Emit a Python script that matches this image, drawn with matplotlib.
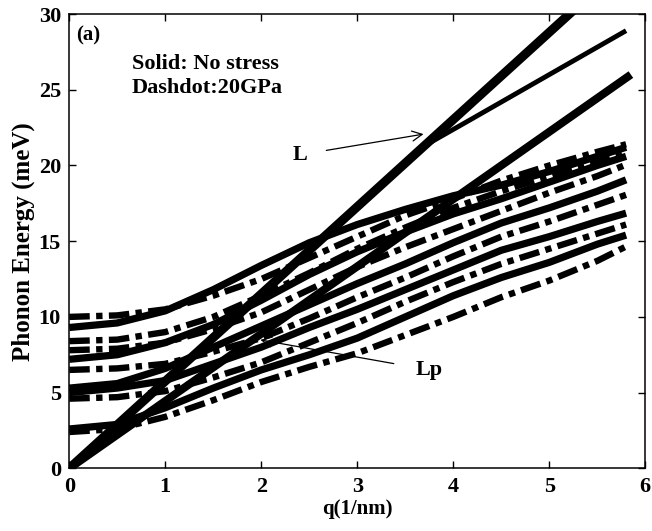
import numpy as np
import matplotlib
matplotlib.use("Agg")
import matplotlib.pyplot as plt

plt.rcParams['font.family'] = ['Liberation Serif', 'DejaVu Serif']
plt.rcParams['font.weight'] = 'bold'
plt.rcParams['axes.labelweight'] = 'bold'

# wave vector grid (1/nm)
q = [0, 0.5, 1, 1.5, 2, 2.5, 3, 3.5, 4, 4.5, 5, 5.5, 5.8]

# no stress branches (solid)
solid = [
    [9.3, 9.6, 10.4, 11.8, 13.4, 14.9, 16.1, 17.1, 18.0, 18.7, 19.6, 20.6, 21.2],
    [7.2, 7.5, 8.3, 9.5, 11.1, 12.8, 14.3, 15.6, 16.8, 17.8, 18.9, 20.0, 20.6],
    [5.3, 5.6, 6.6, 8.0, 9.4, 10.8, 12.2, 13.5, 14.9, 16.2, 17.2, 18.3, 19.05],
    [5.0, 5.3, 5.8, 6.9, 8.0, 9.3, 10.5, 11.8, 13.1, 14.4, 15.3, 16.3, 16.85],
    [2.6, 2.9, 4.0, 5.3, 6.5, 7.5, 8.6, 10.0, 11.4, 12.6, 13.6, 14.8, 15.4],
]

# 20 GPa branches (dashdot)
dashdot = [
    [10.0, 10.1, 10.5, 11.4, 12.5, 13.9, 15.3, 16.7, 17.8, 19.0, 20.0, 20.9, 21.4],
    [8.4, 8.5, 9.0, 10.0, 11.4, 12.9, 14.5, 15.9, 17.2, 18.3, 19.3, 20.3, 20.9],
    [7.8, 7.9, 8.3, 9.2, 10.3, 11.8, 13.3, 14.6, 15.8, 17.0, 18.2, 19.3, 20.05],
    [6.5, 6.6, 6.9, 7.7, 8.6, 9.9, 11.3, 12.6, 14.0, 15.3, 16.3, 17.4, 18.06],
    [4.6, 4.7, 5.1, 6.0, 7.0, 8.3, 9.6, 11.0, 12.3, 13.5, 14.5, 15.5, 16.1],
    [2.4, 2.6, 3.4, 4.5, 5.7, 6.7, 7.6, 8.8, 10.0, 11.3, 12.4, 13.7, 14.65],
]

# longitudinal branches
qL1 = [0, 5.8]
L1 = [0, 33.4]
qL2 = [0, 3.7, 4.2, 5.0, 5.8]
L2 = [0, 21.3, 23.1, 26.0, 28.9]
qL3 = [0, 5.85]
L3 = [0, 26.0]

fig = plt.figure(figsize=(6.52, 5.31), dpi=100)
ax = fig.add_axes([0.1063, 0.118, 0.8834, 0.8556])

dd = (0, (3.2, 1.0, 1.0, 1.0))
for y in solid:
    ax.plot(q, y, color='black', lw=5.2, solid_capstyle='butt',
            solid_joinstyle='round')
for y in dashdot:
    ax.plot(q, y, color='black', lw=4.6, linestyle=dd)

ax.plot(qL1, L1, color='black', lw=6.5, solid_capstyle='butt')
ax.plot(qL2, L2, color='black', lw=3.5, solid_capstyle='butt')
ax.plot(qL3, L3, color='black', lw=5.8, solid_capstyle='butt')

ax.set_xlim(0, 6)
ax.set_ylim(0, 30)
ax.set_xticks(range(0, 7))
ax.set_yticks(range(0, 31, 5))
ax.tick_params(direction='in', top=True, right=True, length=5, width=1,
               labelsize=16, pad=6)
for s in ax.spines.values():
    s.set_linewidth(1.1)

ax.set_xlabel('q(1/nm)', fontsize=15, fontweight='bold', labelpad=2)
ax.set_ylabel('Phonon Energy (meV)', fontsize=18, fontweight='bold', labelpad=3)

ax.text(0.195, 28.6, '(a)', fontsize=15, ha='center', va='center')
ax.text(0.65, 26.7, 'Solid: No stress', fontsize=16, va='center')
ax.text(0.65, 25.1, 'Dashdot:20GPa', fontsize=16, va='center')

ax.annotate('L', xy=(3.69, 22.07), xytext=(2.40, 20.7), fontsize=16,
            ha='center', va='center',
            arrowprops=dict(arrowstyle='->', lw=0.9, color='black',
                            mutation_scale=18, shrinkA=12, shrinkB=0))
ax.annotate('Lp', xy=(1.99, 8.48), xytext=(3.75, 6.5), fontsize=16,
            ha='center', va='center',
            arrowprops=dict(arrowstyle='->', lw=0.9, color='black',
                            mutation_scale=18, shrinkA=14, shrinkB=0))

fig.savefig('out.png', dpi=100)
